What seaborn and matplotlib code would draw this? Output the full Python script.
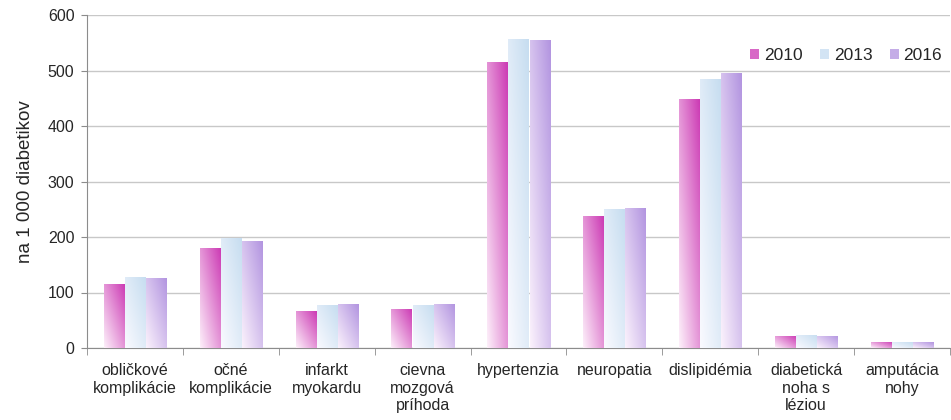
import matplotlib
matplotlib.use("Agg")
import matplotlib.pyplot as plt
import seaborn as sns
import numpy as np
import pandas as pd
from matplotlib.patches import Rectangle

# data
categories = ["obličkové\nkomplikácie", "očné\nkomplikácie", "infarkt\nmyokardu",
              "cievna\nmozgová\npríhoda", "hypertenzia", "neuropatia",
              "dislipidémia", "diabetická\nnoha s\nléziou", "amputácia\nnohy"]
years = ["2010", "2013", "2016"]
v2010 = [116, 181, 66, 71, 515, 237, 448, 22, 11]
v2013 = [128, 199, 77, 78, 557, 250, 484, 24, 10]
v2016 = [127, 192, 79, 80, 555, 253, 495, 22, 10]

# gradient end colours (light -> dark) per year
dark = {"2010": (204, 58, 180), "2013": (198, 221, 240), "2016": (178, 148, 224)}
light = {"2010": (253, 240, 250), "2013": (250, 250, 255), "2016": (251, 242, 252)}

df = pd.DataFrame({
    "kategoria": categories * 3,
    "rok": [y for y in years for _ in categories],
    "hodnota": v2010 + v2013 + v2016,
})

sns.set_style("white")
plt.rcParams["font.family"] = ["Liberation Sans", "DejaVu Sans"]

fig = plt.figure(figsize=(9.51, 4.2), dpi=100)
ax = fig.add_axes([87 / 951, 72 / 420, 863 / 951, 333 / 420])

mid = {y: tuple(np.array(dark[y]) / 255 * 0.75 + np.array(light[y]) / 255 * 0.25) for y in years}
sns.barplot(data=df, x="kategoria", y="hodnota", hue="rok", hue_order=years,
            palette=mid, width=0.66, gap=0.05, legend=False, ax=ax, zorder=3)


def gradient_img(y, n=60):
    xf = np.linspace(0, 1, n)[None, :]
    yf = np.linspace(1, 0, n)[:, None]
    t = np.clip((xf + yf) / 2, 0, 1)[..., None]
    lo = np.array(light[y]) / 255
    hi = np.array(dark[y]) / 255
    return lo + (hi - lo) * t


# replace flat bars with diagonal gradients
for i, cont in enumerate(ax.containers):
    y = years[i]
    img = gradient_img(y)
    for p in cont.patches:
        x0, w, h = p.get_x(), p.get_width(), p.get_height()
        p.set_facecolor("none")
        p.set_edgecolor("none")
        im = ax.imshow(img, extent=[x0, x0 + w, 0, h], aspect="auto",
                       interpolation="bilinear", zorder=3)
        im.set_clip_path(p)

ax.set_xlim(-0.5, len(categories) - 0.5)
ax.set_ylim(0, 600)

# grid and axes styling
ax.set_yticks(range(0, 601, 100))
ax.yaxis.grid(True, color="#c8c8c8", linewidth=1, zorder=0)
ax.set_axisbelow(True)
for s in ["top", "right"]:
    ax.spines[s].set_visible(False)
ax.spines["left"].set_color("#8c8c8c")
ax.spines["bottom"].set_color("#8c8c8c")
ax.tick_params(axis="y", length=4, color="#8c8c8c", labelsize=11.5, pad=5, left=True)
ax.set_xticks(range(len(categories)))
ax.set_xticklabels(categories, fontsize=11.5, linespacing=1.2, va="top")
ax.tick_params(axis="x", which="major", length=0, pad=11)
ax.set_xticks(np.arange(-0.5, len(categories)), minor=True)
ax.tick_params(axis="x", which="minor", length=5, color="#8c8c8c", bottom=True)
ax.set_xlabel("")
ax.set_ylabel("na 1 000 diabetikov", fontsize=13.5, labelpad=10)

# legend
handles = [Rectangle((0, 0), 1, 1, facecolor=mid[y], edgecolor="none") for y in years]
fig.legend(handles, years, loc="upper right", bbox_to_anchor=(0.998, 1 - 41 / 420), ncol=3,
           frameon=False, fontsize=12.5, handlelength=0.55, handleheight=0.55,
           handletextpad=0.25, columnspacing=1.0, borderaxespad=0)

fig.savefig("out.png", dpi=100)
